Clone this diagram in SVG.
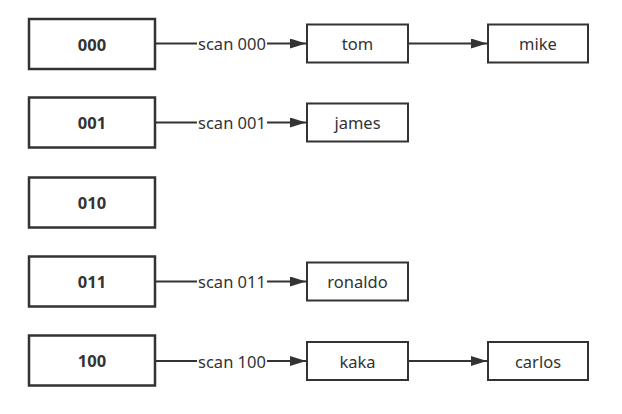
<svg xmlns="http://www.w3.org/2000/svg" width="622" height="414" viewBox="0 0 622 414">
<style>
.k rect{fill:#fff;stroke:#333;stroke-width:2.5}
.n rect{fill:#fff;stroke:#333;stroke-width:2}
text{font-family:"Noto Sans","Open Sans","Liberation Sans",sans-serif;fill:#333;text-anchor:middle;dominant-baseline:central}
.k text{font-size:16.5px;font-weight:bold}
.n text{font-size:16.5px}
.c line{stroke:#333;stroke-width:2}
.c rect{fill:#fff}
.c text{font-size:16.5px}
</style>
<defs>
<marker id="ah" viewBox="0 0 16 10" refX="16" refY="5" markerWidth="16" markerHeight="10" markerUnits="userSpaceOnUse" orient="auto">
<path d="M0,0 L16,5 L0,10 Z" fill="#333"/>
</marker>
</defs>
<g class="c" id="connectors">
<line x1="156" y1="43.5" x2="306" y2="43.5" marker-end="url(#ah)"/>
<rect x="197" y="33" width="70" height="21"/><text x="232" y="43.5">scan 000</text>
<line x1="409" y1="43.5" x2="487" y2="43.5" marker-end="url(#ah)"/>
<line x1="156" y1="122.5" x2="306" y2="122.5" marker-end="url(#ah)"/>
<rect x="197" y="112" width="70" height="21"/><text x="232" y="122.5">scan 001</text>
<line x1="156" y1="281.5" x2="306" y2="281.5" marker-end="url(#ah)"/>
<rect x="197" y="271" width="70" height="21"/><text x="232" y="281.5">scan 011</text>
<line x1="156" y1="361" x2="306" y2="361" marker-end="url(#ah)"/>
<rect x="197" y="350.5" width="70" height="21"/><text x="232" y="361">scan 100</text>
<line x1="409" y1="361" x2="487" y2="361" marker-end="url(#ah)"/>
</g>
<g class="k" id="k000"><rect x="29" y="19" width="126" height="50"/><text x="92" y="44">000</text></g>
<g class="k" id="k001"><rect x="29" y="97.5" width="126" height="50"/><text x="92" y="122.5">001</text></g>
<g class="k" id="k010"><rect x="29" y="177.5" width="126" height="50"/><text x="92" y="202.5">010</text></g>
<g class="k" id="k011"><rect x="29" y="256.5" width="126" height="50"/><text x="92" y="281.5">011</text></g>
<g class="k" id="k100"><rect x="29" y="335.5" width="126" height="50"/><text x="92" y="360.5">100</text></g>
<g class="n" id="tom"><rect x="307" y="24.5" width="101" height="38"/><text x="357.5" y="43.5">tom</text></g>
<g class="n" id="mike"><rect x="488" y="24.5" width="100" height="38"/><text x="538" y="43.5">mike</text></g>
<g class="n" id="james"><rect x="307" y="103.5" width="101" height="38"/><text x="357.5" y="122.5">james</text></g>
<g class="n" id="ronaldo"><rect x="307" y="262.5" width="101" height="38"/><text x="357.5" y="281.5">ronaldo</text></g>
<g class="n" id="kaka"><rect x="307" y="342" width="101" height="38"/><text x="357.5" y="361">kaka</text></g>
<g class="n" id="carlos"><rect x="488" y="342" width="100" height="38"/><text x="538" y="361">carlos</text></g>
</svg>
